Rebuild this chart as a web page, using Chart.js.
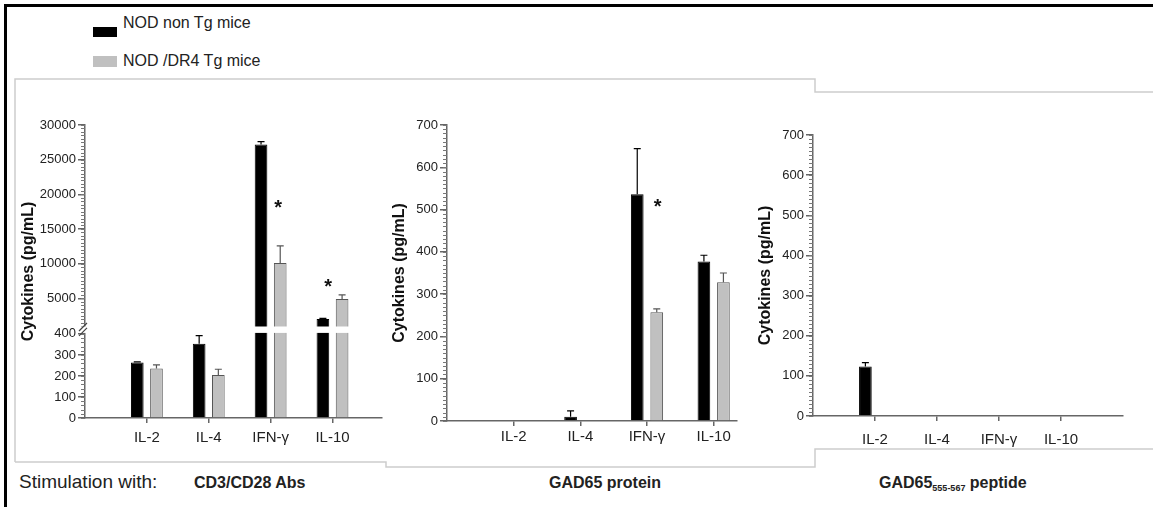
<!DOCTYPE html>
<html>
<head>
<meta charset="utf-8">
<script src="https://cdn.jsdelivr.net/npm/chart.js@4.4.1/dist/chart.umd.min.js"></script>
<style>
  body { margin: 0; width: 1153px; height: 507px; overflow: hidden; background: #fff; position: relative;
         font-family: 'Liberation Sans', Arial, sans-serif; color: #222; }
  .abs { position: absolute; white-space: nowrap; }
  canvas { position: absolute; }
  .sw { position: absolute; width: 24px; height: 10px; }
  .bold { font-weight: bold; }
</style>
</head>
<body>
<div class="abs" style="left:4px;top:4px;width:1149px;height:3px;background:#000"></div>
<div class="abs" style="left:4px;top:4px;width:3px;height:503px;background:#000"></div>
<svg class="abs" style="left:0;top:0" width="1153" height="507">
  <polyline points="15,462 15,79 815,79 815,92 1153,92" fill="none" stroke="#cdcdcd" stroke-width="1.5"/>
  <polyline points="15,462 386,462 386,467 815,467 815,449 1153,449" fill="none" stroke="#cdcdcd" stroke-width="1.5"/>
</svg>

<div class="sw" style="left:93px;top:27px;background:#000"></div>
<div class="abs" id="leg1" style="left:123px;top:13px;font-size:16px;line-height:19px"></div>
<div class="sw" style="left:93px;top:56px;height:11px;background:#c0c0c0"></div>
<div class="abs" id="leg2" style="left:123px;top:51px;font-size:16px;line-height:19px"></div>

<canvas id="cd3Chart" width="378" height="360" style="left:10px;top:100px"></canvas>
<canvas id="gadChart" width="357" height="360" style="left:388px;top:100px"></canvas>
<canvas id="peptideChart" width="400" height="360" style="left:745px;top:100px"></canvas>

<div class="abs" style="left:19px;top:471px;font-size:19px;line-height:22px">Stimulation with:</div>
<div class="abs bold" style="left:194px;top:473px;font-size:16px;line-height:19px">CD3/CD28 Abs</div>
<div class="abs bold" style="left:549px;top:473px;font-size:16px;line-height:19px">GAD65 protein</div>
<div class="abs bold" style="left:879px;top:473px;font-size:16px;line-height:19px">GAD65<span style="font-size:9px;vertical-align:-3px">555-567</span> peptide</div>

<script>
const cytokines = ['IL-2', 'IL-4', 'IFN-γ', 'IL-10'];
const groupLabels = ['NOD non Tg mice', 'NOD /DR4 Tg mice'];

// CD3/CD28 Abs
const cd3NonTg = [264, 353, 27200, 2000];
const cd3NonTgErr = [3, 39, 400, 100];
const cd3Dr4 = [235, 204, 10100, 4900];
const cd3Dr4Err = [18, 28, 2450, 600];
const cd3Stars = [null, null, 18500, 7200];
const cd3Ticks = [0, 100, 200, 300, 400, 5000, 10000, 15000, 20000, 25000, 30000];

// GAD65 protein
const gadNonTg = [0, 10, 536, 377];
const gadNonTgErr = [0, 14, 108, 15];
const gadDr4 = [0, 0, 257, 328];
const gadDr4Err = [0, 0, 8, 22];
const gadStars = [null, null, 515, null];

// GAD65 555-567 peptide
const pepNonTg = [123, 0, 0, 0];
const pepNonTgErr = [10, 0, 0, 0];
const pepDr4 = [0, 0, 0, 0];
const pepDr4Err = [0, 0, 0, 0];

document.getElementById('leg1').textContent = groupLabels[0];
document.getElementById('leg2').textContent = groupLabels[1];

const FONT = "'Liberation Sans', Arial, sans-serif";
const AXIS = '#666';

// broken y axis: 0-400 at the bottom, 1000-30000 on top
const breakLow = 400, breakHigh = 1000, lowShare = 0.287, highShare = 0.314;

class BrokenScale extends Chart.LinearScale {
  getPixelForValue(value) {
    if (value === null || value === undefined || isNaN(value)) return NaN;
    let d;
    if (value <= breakLow) d = value / breakLow * lowShare;
    else if (value >= breakHigh) d = highShare + (value - breakHigh) / (this.max - breakHigh) * (1 - highShare);
    else d = lowShare + (value - breakLow) / (breakHigh - breakLow) * (highShare - lowShare);
    return this.getPixelForDecimal(d);
  }
  buildTicks() {
    return cd3Ticks.map(v => ({ value: v }));
  }
}
BrokenScale.id = 'broken';
BrokenScale.defaults = { ticks: { callback: v => String(v) } };
Chart.register(BrokenScale);

const extras = {
  id: 'extras',
  afterDatasetsDraw(chart, args, opts) {
    const ctx = chart.ctx;
    const y = chart.scales.y;
    const area = chart.chartArea;
    ctx.save();
    // minor ticks
    ctx.strokeStyle = '#777';
    ctx.lineWidth = 1;
    ctx.beginPath();
    (opts.minor || []).forEach(seg => {
      for (let v = seg[0]; v <= seg[1]; v += seg[2]) {
        const py = Math.round(y.getPixelForValue(v)) + 0.5;
        ctx.moveTo(area.left - 4, py);
        ctx.lineTo(area.left, py);
      }
    });
    ctx.stroke();
    // axis break
    if (opts.brk) {
      const yHi = y.getPixelForValue(breakHigh);
      const yLo = y.getPixelForValue(breakLow);
      ctx.fillStyle = '#fff';
      ctx.fillRect(area.left - 9, yHi + 0.5, area.right - area.left + 9, yLo - yHi - 1.5);
      ctx.strokeStyle = '#444';
      ctx.lineWidth = 1.2;
      ctx.beginPath();
      ctx.moveTo(area.left - 6, yHi + 5); ctx.lineTo(area.left + 2, yHi - 3);
      ctx.moveTo(area.left - 6, yLo + 2); ctx.lineTo(area.left + 2, yLo - 6);
      ctx.stroke();
    }
    // error bars (upper only)
    chart.data.datasets.forEach((ds, di) => {
      const meta = chart.getDatasetMeta(di);
      meta.data.forEach((bar, i) => {
        const err = ds.errorBars[i];
        if (!err) return;
        const top = y.getPixelForValue(ds.data[i] + err);
        ctx.strokeStyle = ds.errorColor;
        ctx.lineWidth = 1.2;
        ctx.beginPath();
        ctx.moveTo(bar.x, bar.y);
        ctx.lineTo(bar.x, top);
        ctx.moveTo(bar.x - 3.5, top);
        ctx.lineTo(bar.x + 3.5, top);
        ctx.stroke();
      });
    });
    // significance stars next to the DR4 bars
    if (opts.stars) {
      const meta = chart.getDatasetMeta(1);
      ctx.fillStyle = '#111';
      ctx.font = 'bold 20px ' + FONT;
      ctx.textAlign = 'center';
      ctx.textBaseline = 'middle';
      opts.stars.forEach((v, i) => {
        if (v === null) return;
        ctx.fillText('*', meta.data[i].x + (opts.starShift[i] || 0), y.getPixelForValue(v) + 4);
      });
    }
    ctx.restore();
  }
};

function makeChart(canvasId, cfg) {
  return new Chart(document.getElementById(canvasId), {
    type: 'bar',
    plugins: [extras],
    data: {
      labels: cytokines.map((c, i) => i + 1),
      datasets: [
        { label: groupLabels[0], data: cfg.nonTg, errorBars: cfg.nonTgErr, errorColor: '#000',
          backgroundColor: '#000', borderColor: '#000', borderWidth: 1 },
        { label: groupLabels[1], data: cfg.dr4, errorBars: cfg.dr4Err, errorColor: '#555',
          backgroundColor: '#c0c0c0', borderColor: '#555', borderWidth: 1 }
      ]
    },
    options: {
      responsive: false,
      animation: false,
      devicePixelRatio: 1,
      categoryPercentage: cfg.catPct,
      barPercentage: cfg.barPct,
      layout: { padding: { left: 0, right: cfg.padRight, top: cfg.padTop, bottom: 0 } },
      plugins: {
        legend: { display: false },
        tooltip: { enabled: false },
        extras: { minor: cfg.minor, brk: cfg.brk, stars: cfg.stars, starShift: cfg.starShift || [] }
      },
      scales: {
        x: {
          type: 'linear', min: 0, max: cfg.xMax, offset: false,
          grid: { display: true, drawOnChartArea: false, offset: false, tickLength: 5, color: AXIS, lineWidth: 1.5 },
          border: { display: true, color: AXIS, width: 1.5 },
          afterBuildTicks: s => { s.ticks = cytokines.map((c, i) => ({ value: i + 1 })); },
          afterFit: s => { s.height = cfg.xHeight; },
          ticks: { callback: v => cytokines[v - 1], autoSkip: false, maxRotation: 0, padding: cfg.xPad,
                   color: '#222', font: { family: FONT, size: 15 } }
        },
        y: {
          type: cfg.yType, min: 0, max: cfg.yMax,
          grid: { display: true, drawOnChartArea: false, tickLength: 7, color: AXIS, lineWidth: 1.5 },
          border: { display: true, color: AXIS, width: 1.5 },
          afterFit: s => { s.width = cfg.yWidth; },
          ticks: { stepSize: 100, callback: v => String(v), padding: 2, color: '#222',
                   font: { family: FONT, size: 13 } },
          title: { display: true, text: 'Cytokines (pg/mL)', color: '#111',
                   padding: { top: cfg.titlePad, bottom: 0 },
                   font: { family: FONT, size: 16, weight: 'bold' } }
        }
      }
    }
  });
}

makeChart('cd3Chart', {
  nonTg: cd3NonTg, nonTgErr: cd3NonTgErr, dr4: cd3Dr4, dr4Err: cd3Dr4Err,
  stars: cd3Stars, starShift: [0, 0, -2, -14],
  yType: 'broken', yMax: 30000, brk: true, minor: [[0, 400, 20], [1000, 30000, 500]],
  xMax: 4.8, catPct: 0.62, barPct: 0.66,
  padRight: 6, padTop: 25, xHeight: 42, yWidth: 75, titlePad: 9, xPad: 6
});

makeChart('gadChart', {
  nonTg: gadNonTg, nonTgErr: gadNonTgErr, dr4: gadDr4, dr4Err: gadDr4Err,
  stars: gadStars, starShift: [0, 0, 1, 0],
  yType: 'linear', yMax: 700, brk: false, minor: [[0, 700, 10]],
  xMax: 4.35, catPct: 0.585, barPct: 0.65,
  padRight: 8, padTop: 25, xHeight: 39, yWidth: 59, titlePad: 2, xPad: 2
});

makeChart('peptideChart', {
  nonTg: pepNonTg, nonTgErr: pepNonTgErr, dr4: pepDr4, dr4Err: pepDr4Err, stars: null,
  yType: 'linear', yMax: 700, brk: false, minor: [[0, 700, 10]],
  xMax: 5, catPct: 0.62, barPct: 0.66,
  padRight: 22, padTop: 35, xHeight: 44, yWidth: 68, titlePad: 11, xPad: 10
});
</script>
</body>
</html>
